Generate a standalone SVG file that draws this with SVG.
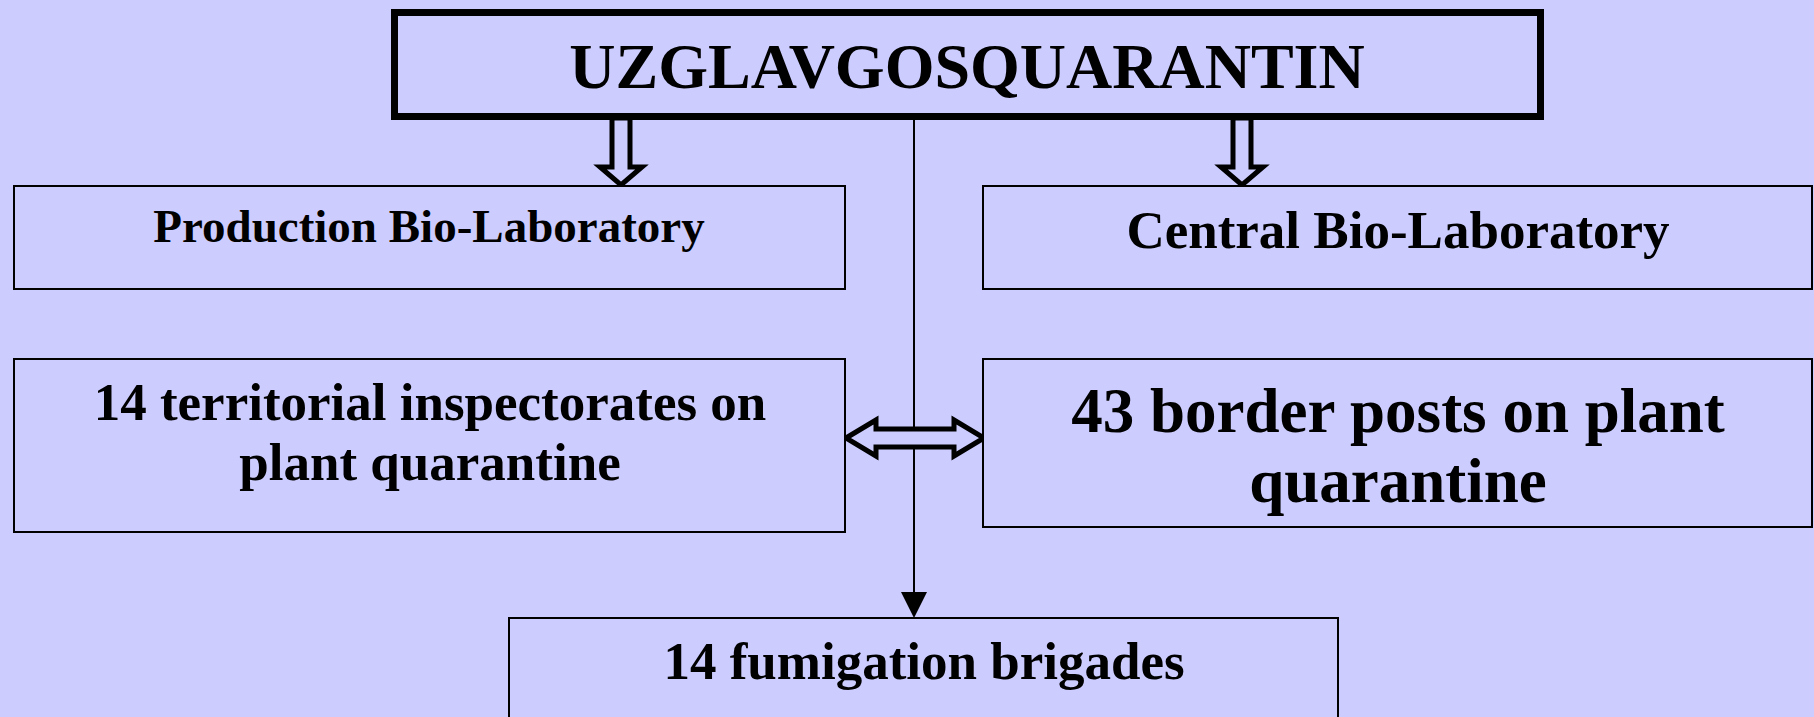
<svg xmlns="http://www.w3.org/2000/svg" width="1814" height="717" viewBox="0 0 1814 717">
<style>
.box{fill:#CCCCFF;stroke:#000;stroke-width:2}
.t{font-family:"Liberation Serif","Times New Roman",serif;font-weight:bold;fill:#000;text-anchor:middle}
.blk{fill:#CCCCFF;stroke:#000;stroke-width:5;stroke-linejoin:miter;stroke-miterlimit:10}
</style>
<rect x="0" y="0" width="1814" height="717" fill="#CCCCFF"/>
<g id="connectors">
<line x1="914" y1="120" x2="914" y2="594" stroke="#000" stroke-width="2"/>
<polygon points="901,592 927,592 914,618" fill="#000"/>
<polygon class="blk" points="612,118 630,118 630,167 642,167 621,185 600,167 612,167"/>
<polygon class="blk" points="1233,118 1251,118 1251,167 1263,167 1242,185 1221,167 1233,167"/>
<polygon class="blk" points="846,438 876,420 876,429 954,429 954,420 984,438 954,456 954,447 876,447 876,456"/>
</g>
<g id="top">
<rect x="394.5" y="12.5" width="1146" height="104" fill="#CCCCFF" stroke="#000" stroke-width="7"/>
<text class="t" x="967" y="88" font-size="64">UZGLAVGOSQUARANTIN</text>
</g>
<g id="prodlab">
<rect class="box" x="14" y="186" width="831" height="103"/>
<text class="t" x="429" y="242" font-size="47">Production Bio-Laboratory</text>
</g>
<g id="centrallab">
<rect class="box" x="983" y="186" width="829" height="103"/>
<text class="t" x="1398" y="248" font-size="53">Central Bio-Laboratory</text>
</g>
<g id="territorial">
<rect class="box" x="14" y="359" width="831" height="173"/>
<text class="t" x="430" y="420" font-size="53">14 territorial inspectorates on</text>
<text class="t" x="430" y="480" font-size="53">plant quarantine</text>
</g>
<g id="border">
<rect class="box" x="983" y="359" width="829" height="168"/>
<text class="t" x="1398" y="432" font-size="63">43 border posts on plant</text>
<text class="t" x="1398" y="502" font-size="63">quarantine</text>
</g>
<g id="fumigation">
<rect class="box" x="509" y="618" width="829" height="110"/>
<text class="t" x="924" y="679" font-size="53">14 fumigation brigades</text>
</g>
</svg>
